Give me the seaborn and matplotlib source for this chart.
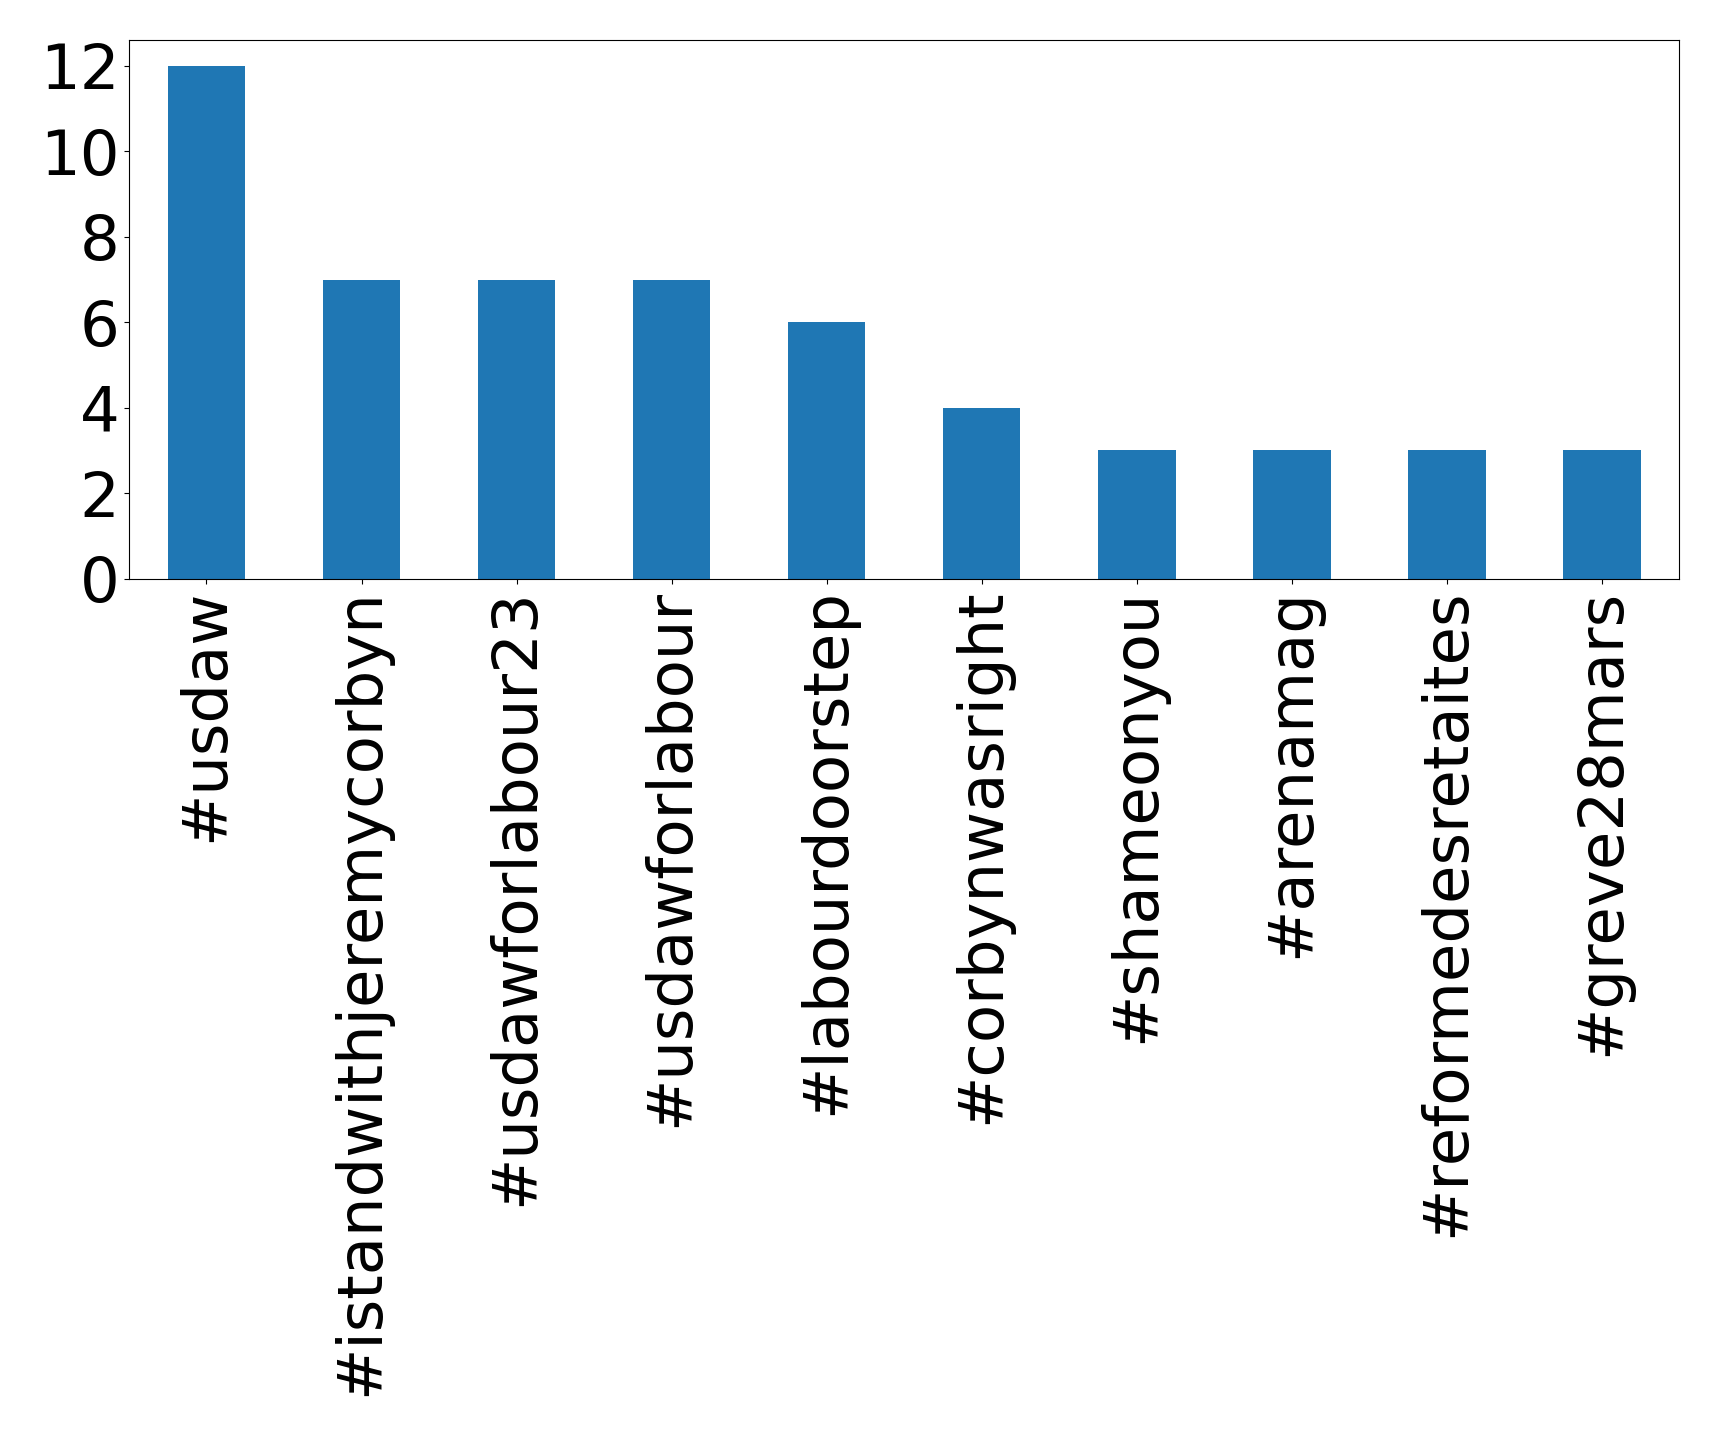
import matplotlib
matplotlib.use("Agg")
import matplotlib.pyplot as plt
import seaborn as sns
import pandas as pd

# hashtag counts
hashtags = ["#usdaw", "#istandwithjeremycorbyn", "#usdawforlabour23", "#usdawforlabour",
            "#labourdoorstep", "#corbynwasright", "#shameonyou", "#arenamag",
            "#reformedesretaites", "#greve28mars"]
counts = [12, 7, 7, 7, 6, 4, 3, 3, 3, 3]
yticks = [0, 2, 4, 6, 8, 10, 12]

df = pd.DataFrame({"hashtag": hashtags, "count": counts})

fig, ax = plt.subplots(figsize=(17.19, 14.36), dpi=100)
sns.barplot(data=df, x="hashtag", y="count", color="#1f77b4", saturation=1,
            width=0.5, ax=ax)
ax.set_xlim(-0.5, 9.5)
ax.set_ylim(0, 12.6)
ax.set_yticks(yticks)
ax.set_xlabel("")
ax.set_ylabel("")
ax.tick_params(axis="both", labelsize=45)
plt.xticks(rotation=90)
plt.subplots_adjust(left=0.075, right=0.977, top=0.972, bottom=0.597)
plt.savefig("out.png")
